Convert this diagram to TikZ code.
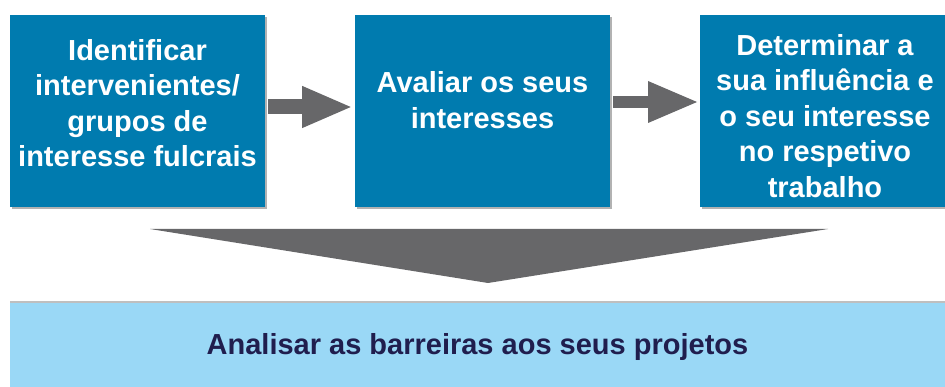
\documentclass[tikz,border=0pt]{standalone}
\usepackage{fontspec}
\setmainfont{Liberation Sans}
\usetikzlibrary{arrows.meta,shadows}
\definecolor{boxblue}{RGB}{0,123,175}
\definecolor{lightblue}{RGB}{154,216,246}
\definecolor{arrowgray}{RGB}{103,103,105}
\definecolor{darktext}{RGB}{32,30,78}
\tikzset{
  stepbox/.style={fill=boxblue, draw=none, inner sep=0pt, anchor=north west,
    drop shadow={shadow xshift=2pt, shadow yshift=-2pt, opacity=0.3, fill=black}},
  steptext/.style={text=white, align=center, inner sep=0pt,
    font=\bfseries\fontsize{29}{35.5}\selectfont},
  flowarrow/.style={draw=arrowgray, -{Triangle[length=51pt,width=38pt]}},
}
\begin{document}
\begin{tikzpicture}[x=1pt,y=-1pt]
\useasboundingbox (0,0) rectangle (945,387);
% top boxes
\node[stepbox, minimum width=255pt, minimum height=192pt] (b1) at (10,15) {};
\node[stepbox, minimum width=255pt, minimum height=192pt] (b2) at (355,15) {};
\node[stepbox, minimum width=255pt, minimum height=192pt] (b3) at (700,15) {};
% texts
\node[steptext] (t1) at (137.5,103) {Identificar\\intervenientes/\\grupos de\\interesse fulcrais};
\node[steptext] (t2) at (482.5,100) {Avaliar os seus\\interesses};
\node[steptext] (t3) at (825,116) {Determinar a\\sua influência e\\o seu interesse\\no respetivo\\trabalho};
% arrows
\coordinate (a1s) at (268,107);
\coordinate (a1e) at (353,107);
\coordinate (a2s) at (613,102);
\coordinate (a2e) at (699,102);
\draw[flowarrow, line width=15pt] (a1s) -- (a1e);
\draw[flowarrow, line width=12pt] (a2s) -- (a2e);
% big down triangle
\coordinate (tl) at (150,229);
\coordinate (tr) at (828,229);
\coordinate (tt) at (488,283);
\fill[arrowgray] (tl) -- (tr) -- (tt) -- cycle;
% bottom box
\node[fill=lightblue, draw=none, inner sep=0pt, anchor=north west,
  minimum width=945pt, minimum height=90pt,
  drop shadow={shadow xshift=0pt, shadow yshift=2pt, opacity=0.25, fill=black}] (b4) at (10,303) {};
\node[text=darktext, inner sep=0pt, font=\bfseries\fontsize{29}{35}\selectfont] (t4) at (477.5,347.5) {Analisar as barreiras aos seus projetos};
\end{tikzpicture}
\end{document}
